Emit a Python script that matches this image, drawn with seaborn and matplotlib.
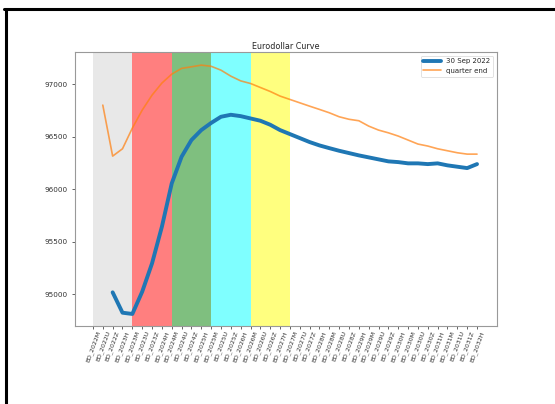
import numpy as np
import pandas as pd
import seaborn as sns
import matplotlib.pyplot as plt
from matplotlib.lines import Line2D

contracts = ['ED_2022M', 'ED_2022U', 'ED_2022Z']
for yr in range(2023, 2032):
    contracts += [f'ED_{yr}{m}' for m in 'HMUZ']
contracts += ['ED_2032H']

nan = np.nan
sep_2022 = [nan, nan, 95016, 94822, 94810, 95022, 95292, 95641, 96054, 96308,
            96467, 96562, 96630, 96689, 96708, 96695, 96673, 96651, 96613, 96562,
            96524, 96486, 96448, 96416, 96390, 96365, 96343, 96321, 96302, 96283,
            96264, 96257, 96245, 96245, 96238, 96245, 96226, 96213, 96200, 96238]
quarter_end = [nan, 96800, 96314, 96384, 96581, 96752, 96895, 97010, 97095, 97150,
               97165, 97181, 97170, 97133, 97076, 97031, 97006, 96968, 96930, 96886,
               96854, 96822, 96790, 96759, 96727, 96689, 96665, 96651, 96600, 96562,
               96536, 96505, 96467, 96429, 96410, 96384, 96365, 96346, 96333, 96333]

bands = [('ED_2022M', 'ED_2023M', 'lightgrey'),
         ('ED_2023M', 'ED_2024M', 'red'),
         ('ED_2024M', 'ED_2025M', 'green'),
         ('ED_2025M', 'ED_2026M', 'cyan'),
         ('ED_2026M', 'ED_2027M', 'yellow')]

df = pd.DataFrame({'pos': np.arange(len(contracts)),
                   '30 Sep 2022': sep_2022,
                   'quarter end': quarter_end})

sns.set_style('ticks')
plt.rcParams['font.family'] = ['DejaVu Sans']

fig = plt.figure(figsize=(5.55, 4.04), dpi=100)
ax = fig.add_axes([0.135, 0.193, 0.76, 0.678])

for start, end, col in bands:
    ax.axvspan(contracts.index(start), contracts.index(end), color=col, alpha=0.5, lw=0)

sns.lineplot(data=df, x='pos', y='30 Sep 2022', ax=ax, color='#1f77b4', lw=2.8,
             label='30 Sep 2022')
sns.lineplot(data=df, x='pos', y='quarter end', ax=ax, color='#ff7f0e', lw=1.2,
             alpha=0.7, label='quarter end')

ax.set_xlim(-1.83, 41.0)
ax.set_ylim(94695, 97305)
ax.set_xticks(df['pos'])
ax.set_xticklabels(contracts, rotation=70, fontsize=4.5, color='#333333')
ax.set_yticks([95000, 95500, 96000, 96500, 97000])
ax.tick_params(axis='y', labelsize=5.2, length=2, width=0.5, labelcolor='#333333')
ax.tick_params(axis='x', length=2, width=0.5, pad=1)
ax.set_xlabel('')
ax.set_ylabel('')
ax.set_title('Eurodollar Curve', fontsize=5.8, pad=2)
for s in ax.spines.values():
    s.set_color('#999999')
    s.set_linewidth(0.8)

leg = ax.legend(loc='upper right', fontsize=5, frameon=True, handlelength=2.5)
leg.get_frame().set_linewidth(0.5)

# screenshot frame
fig.add_artist(Line2D([4 / 555, 1], [1 - 9 / 404, 1 - 9 / 404], color='black', lw=2.2))
fig.add_artist(Line2D([6 / 555, 6 / 555], [0, 1 - 9 / 404], color='black', lw=2.2))

fig.savefig('out.png', dpi=100)
